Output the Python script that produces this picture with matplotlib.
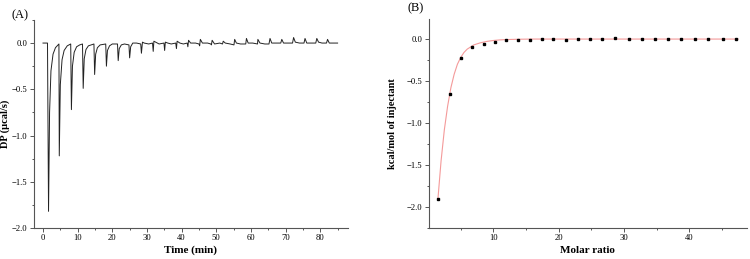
import matplotlib
matplotlib.use("Agg")
import matplotlib.pyplot as plt
from matplotlib.ticker import MultipleLocator

plt.rcParams["font.family"] = ["Liberation Serif", "DejaVu Serif"]

# (A) thermogram: vertices, one list per injection
TRACE = [
    [(0.0, 0.0), (1.3, 0.0), (1.6, -1.82), (1.9, -0.75), (2.3, -0.30), (2.9, -0.12), (3.6, -0.05), (4.6, -0.01)],
    [(4.7, -1.22), (5.0, -0.45), (5.5, -0.18), (6.1, -0.08), (7.0, -0.03), (8.0, -0.01)],
    [(8.2, -0.72), (8.5, -0.25), (9.0, -0.10), (9.7, -0.04), (10.6, -0.02), (11.4, -0.01)],
    [(11.6, -0.49), (11.9, -0.17), (12.4, -0.07), (13.1, -0.03), (14.7, -0.01)],
    [(14.9, -0.34), (15.2, -0.12), (15.7, -0.05), (16.5, -0.02), (18.1, -0.01)],
    [(18.3, -0.25), (18.6, -0.08), (19.2, -0.03), (20.0, -0.01), (21.5, -0.01)],
    [(21.7, -0.19), (22.0, -0.06), (22.6, -0.02), (23.5, -0.01), (24.8, -0.02)],
    [(25.0, -0.16), (25.3, -0.04), (25.9, 0.0), (27.0, 0.0), (28.2, -0.01)],
    [(28.4, -0.11), (28.7, 0.01), (29.2, 0.0), (30.5, -0.01), (31.6, 0.0)],
    [(31.8, -0.09), (32.0, 0.02), (32.5, 0.01), (33.5, -0.01), (34.9, 0.0)],
    [(35.1, -0.08), (35.3, 0.01), (36.0, 0.0), (37.0, -0.01), (38.3, 0.0)],
    [(38.5, -0.06), (38.7, 0.02), (39.5, 0.0), (40.5, -0.01), (41.6, 0.0)],
    [(41.8, -0.04), (42.0, 0.03), (42.6, 0.0), (44.0, 0.0), (45.0, -0.01)],
    [(45.2, -0.03), (45.4, 0.04), (46.0, 0.0), (47.5, 0.0), (48.4, -0.01)],
    [(48.6, -0.02), (48.8, 0.03), (49.5, -0.01), (51.0, 0.0), (51.8, -0.01)],
    [(52.0, 0.02), (52.6, 0.0), (54.0, -0.01), (55.1, -0.02)],
    [(55.3, 0.04), (55.8, 0.0), (57.0, -0.01), (58.5, -0.01)],
    [(58.7, 0.05), (59.2, 0.0), (60.5, 0.0), (61.9, -0.01)],
    [(62.0, 0.04), (62.6, 0.0), (64.0, -0.01), (65.2, -0.01)],
    [(65.5, 0.05), (66.0, 0.0), (67.5, 0.0), (68.6, 0.0)],
    [(68.9, 0.04), (69.4, 0.0), (71.0, 0.0), (72.0, 0.0)],
    [(72.3, 0.06), (72.8, 0.01), (74.0, 0.0), (75.3, 0.0)],
    [(75.6, 0.05), (76.1, 0.0), (77.5, 0.0), (78.7, 0.0)],
    [(79.0, 0.05), (79.5, 0.01), (80.5, 0.0), (81.8, 0.0)],
    [(82.1, 0.04), (82.6, 0.0), (84.0, 0.0), (85.0, 0.0)],
]

# (B) integrated heats
MOLAR_RATIO = [1.6, 3.3, 5.0, 6.7, 8.5, 10.2, 12.0, 13.8, 15.6, 17.4, 19.2, 21.1, 23.0,
               24.8, 26.7, 28.6, 30.8, 32.7, 34.7, 36.8, 38.8, 40.9, 42.9, 45.1, 47.2]
HEAT = [-1.91, -0.66, -0.22, -0.10, -0.06, -0.035, -0.016, -0.016, -0.012, -0.004,
        -0.004, -0.008, -0.004, 0.0, 0.004, 0.008, 0.004, 0.0, 0.0, 0.0, 0.0, 0.002,
        0.002, 0.0, 0.0]

# fitted curve
FIT_X = [1.5, 2.0, 2.5, 3.0, 3.5, 4.0, 4.5, 5.0, 5.5, 6.0, 7.0, 8.0, 9.0, 10.0,
         11.0, 12.0, 14.0, 16.0, 20.0, 30.0, 40.0, 47.5]
FIT_Y = [-1.92, -1.45, -1.08, -0.80, -0.58, -0.42, -0.30, -0.22, -0.16, -0.12,
         -0.07, -0.045, -0.028, -0.017, -0.010, -0.006, -0.002, 0.0, 0.0, 0.0, 0.0, 0.0]


def style_axes(ax):
    for side in ("top", "right"):
        ax.spines[side].set_visible(False)
    for side in ("left", "bottom"):
        ax.spines[side].set_color("#555555")
        ax.spines[side].set_linewidth(0.8)
    ax.tick_params(which="both", direction="out", labelsize=6.2, color="#555555",
                   width=0.7, pad=1.5)
    ax.tick_params(which="major", length=3)
    ax.tick_params(which="minor", length=1.5)
    ax.yaxis.set_major_formatter(lambda v, pos: f"{v:.1f}".replace("-", "\u2212"))


def main():
    fig = plt.figure(figsize=(7.5, 2.59), dpi=100)

    ax1 = fig.add_axes([0.0453, 0.1197, 0.4187, 0.8033])
    t = [p[0] for seg in TRACE for p in seg]
    dp = [p[1] for seg in TRACE for p in seg]
    ax1.plot(t, dp, color="#222222", lw=0.7)
    ax1.set_xlim(-2.6, 88)
    ax1.set_ylim(-2.0, 0.25)
    ax1.xaxis.set_major_locator(MultipleLocator(10))
    ax1.yaxis.set_major_locator(MultipleLocator(0.5))
    ax1.xaxis.set_minor_locator(MultipleLocator(5))
    ax1.yaxis.set_minor_locator(MultipleLocator(0.25))
    style_axes(ax1)
    ax1.set_xlabel("Time (min)", fontsize=8, fontweight="bold", labelpad=2)
    ax1.set_ylabel("DP (\u03bccal/s)", fontsize=7.5, fontweight="bold")
    ax1.yaxis.set_label_coords(-0.075, 0.5)
    fig.text(0.016, 0.942, "(A)", fontsize=9, va="center")

    ax2 = fig.add_axes([0.572, 0.1197, 0.4236, 0.8073])
    ax2.plot(FIT_X, FIT_Y, color="#f49a9a", lw=0.8)
    ax2.plot(MOLAR_RATIO, HEAT, "s", color="black", ms=1.7)
    ax2.set_xlim(0.15, 48.8)
    ax2.set_ylim(-2.25, 0.24)
    ax2.xaxis.set_major_locator(MultipleLocator(10))
    ax2.yaxis.set_major_locator(MultipleLocator(0.5))
    ax2.xaxis.set_minor_locator(MultipleLocator(5))
    ax2.yaxis.set_minor_locator(MultipleLocator(0.25))
    style_axes(ax2)
    ax2.set_xlabel("Molar ratio", fontsize=8, fontweight="bold", labelpad=3)
    ax2.set_ylabel("kcal/mol of injectant", fontsize=7.5, fontweight="bold")
    ax2.yaxis.set_label_coords(-0.1, 0.5)
    fig.text(0.543, 0.968, "(B)", fontsize=9, va="center")

    fig.savefig("out.png", dpi=100)


if __name__ == "__main__":
    main()
